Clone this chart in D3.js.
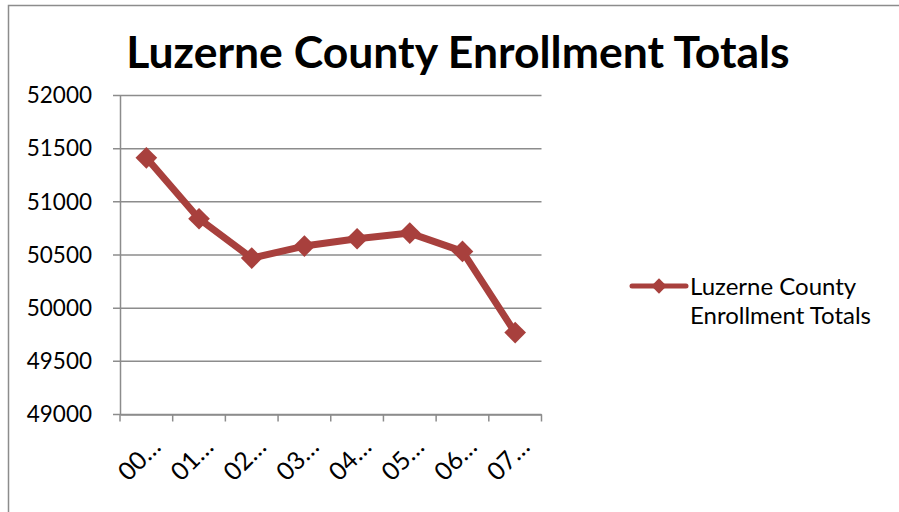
<!DOCTYPE html>
<html><head><meta charset="utf-8">
<script src="https://cdn.jsdelivr.net/npm/d3@7"></script>
<style>body{margin:0;background:#fff}svg{display:block}text{font-family:Lato,"Open Sans",sans-serif}</style>
</head><body>
<script>
const categories = ["00…","01…","02…","03…","04…","05…","06…","07…"];
const values = [51414, 50841, 50471, 50584, 50653, 50706, 50534, 49770];
const yTicks = [49000, 49500, 50000, 50500, 51000, 51500, 52000];
const seriesName = "Luzerne County Enrollment Totals";
const legendLines = ["Luzerne County", "Enrollment Totals"];

const W = 899, H = 512;
const svg = d3.select("body").append("svg").attr("width", W).attr("height", H);
svg.append("rect").attr("x", 8.5).attr("y", 5.5).attr("width", 1000).attr("height", 1000)
  .attr("fill", "#fff").attr("stroke", "#8c8c8c").attr("stroke-width", 1.5);

const m = {l:120, r:541.5, t:95.5, b:414.5};
const x = d3.scaleBand().domain(categories).range([m.l, m.r]);
const y = d3.scaleLinear().domain([49000, 52000]).range([m.b, m.t]);
const gridC = "#8c8c8c";

svg.append("text").attr("x", 458).attr("y", 68).attr("text-anchor", "middle")
  .attr("font-size", 44.5).attr("font-weight", 700).attr("fill", "#000").text(seriesName);

// grid
svg.append("g").selectAll("line").data(yTicks).join("line")
  .attr("x1", m.l - 7).attr("x2", m.r).attr("y1", d => y(d)).attr("y2", d => y(d))
  .attr("stroke", gridC).attr("stroke-width", 1.5);

// y axis
const ya = svg.append("g").attr("transform", `translate(${m.l},0)`)
  .call(d3.axisLeft(y).tickValues(yTicks).tickSize(0).tickPadding(28).tickFormat(d3.format("d")));
ya.select(".domain").attr("stroke", gridC).attr("stroke-width", 1.5);
ya.selectAll("text").attr("font-size", 22.5).attr("fill", "#000").attr("font-family", "Lato");

// x axis
const xa = svg.append("g").attr("transform", `translate(0,${m.b})`)
  .call(d3.axisBottom(x).tickSize(0).tickFormat(""));
xa.select(".domain").attr("stroke", gridC).attr("stroke-width", 1.5);
const bounds = categories.map(c => x(c)).concat([m.r]);
svg.append("g").selectAll("line").data(bounds).join("line")
  .attr("x1", d => d).attr("x2", d => d).attr("y1", m.b).attr("y2", m.b + 7)
  .attr("stroke", gridC).attr("stroke-width", 1.5);
svg.append("g").selectAll("text").data(categories).join("text")
  .attr("transform", d => `translate(${x(d) + x.bandwidth()/2 + 16},${m.b + 34}) rotate(-45)`)
  .attr("text-anchor", "end").attr("font-size", 25).attr("fill", "#000").text(d => d);

const red = "#a8403d";
const pts = values.map((v, i) => [x(categories[i]) + x.bandwidth()/2, y(v)]);
svg.append("path").attr("d", d3.line()(pts)).attr("fill", "none")
  .attr("stroke", red).attr("stroke-width", 7).attr("stroke-linejoin", "round");
const diamond = d3.symbol().type(d3.symbolDiamond2).size(300);
svg.append("g").selectAll("path").data(pts).join("path")
  .attr("transform", d => `translate(${d[0]},${d[1]})`).attr("d", diamond).attr("fill", red);

// legend
const lg = svg.append("g");
lg.append("line").attr("x1", 632).attr("x2", 686).attr("y1", 286).attr("y2", 286)
  .attr("stroke", red).attr("stroke-width", 5).attr("stroke-linecap", "round");
lg.append("path").attr("transform", "translate(659,286)").attr("d", d3.symbol().type(d3.symbolDiamond2).size(150)).attr("fill", red);
lg.selectAll("text").data(legendLines).join("text")
  .attr("x", 690).attr("y", (d, i) => 295 + i * 29).attr("font-size", 24).attr("fill", "#000").text(d => d);
</script>
</body></html>
